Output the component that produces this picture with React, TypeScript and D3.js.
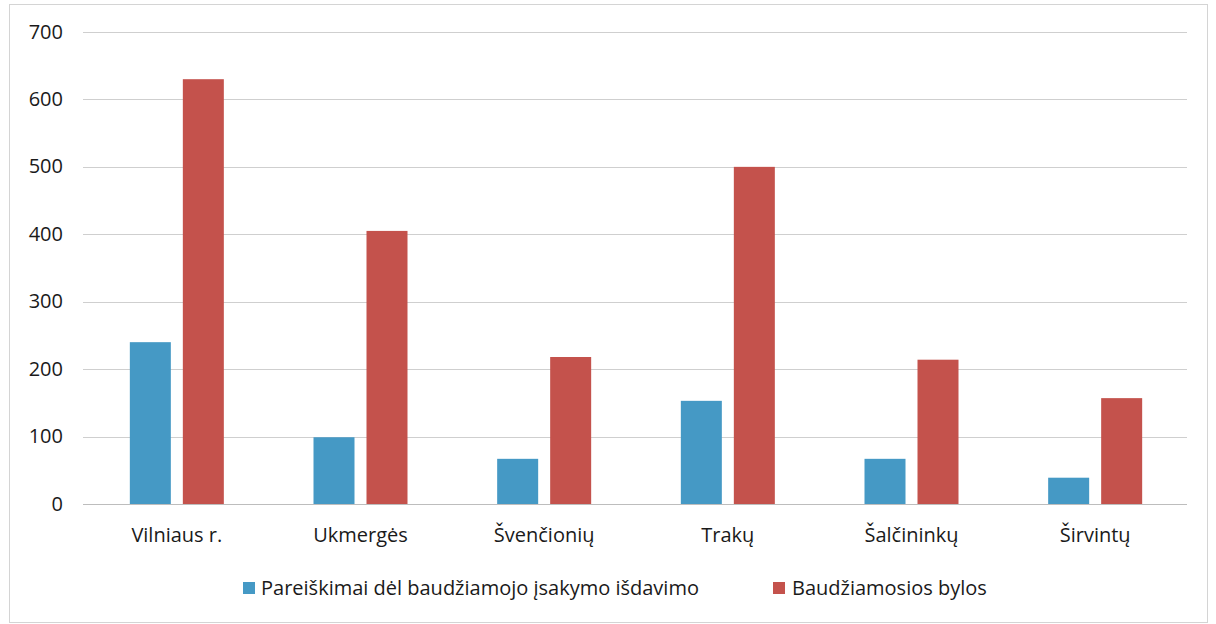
import React from "react";
import * as d3 from "d3";

const categories = ["Vilniaus r.", "Ukmergės", "Švenčionių", "Trakų", "Šalčininkų", "Širvintų"];
const seriesNames = ["Pareiškimai dėl baudžiamojo įsakymo išdavimo", "Baudžiamosios bylos"];
const pareiskimai = [240, 99, 67, 153, 67, 39];
const bylos = [630, 405, 218, 500, 214, 157];
const yTicks = [0, 100, 200, 300, 400, 500, 600, 700];
const colors = ["#4599c5", "#c4524c"];

const W = 1216;
const H = 624;
const FONT = "'Open Sans', 'Noto Sans', sans-serif";
const FS = 20;

export default function App() {
  const x0 = d3.scaleBand<string>().domain(categories).range([85, 1187]).paddingInner(0).paddingOuter(0);
  const x1 = d3.scaleBand<string>().domain(seriesNames).range([-47, 47]).paddingInner(0.2264).paddingOuter(0);
  const y = d3.scaleLinear().domain([0, 700]).range([504, 32]);
  const values = [pareiskimai, bylos];

  return (
    <svg width={W} height={H} style={{ position: "absolute", left: 0, top: 0, background: "#fff" }}>
      <rect x={9.5} y={4.5} width={1198} height={618} fill="#fff" stroke="#d4d4d4" strokeWidth={1} />
      {yTicks.map((t) => (
        <g key={t}>
          <line x1={83} x2={1187} y1={Math.round(y(t)) + 0.5} y2={Math.round(y(t)) + 0.5} stroke={t === 0 ? "#bdbdbd" : "#cfcfcf"} strokeWidth={1} />
          <text x={63} y={y(t)} dy="0.33em" textAnchor="end" fontFamily={FONT} fontSize={FS} fill="#1a1a1a">
            {t}
          </text>
        </g>
      ))}
      {categories.map((c, i) => {
        const cx = (x0(c) as number) + x0.bandwidth() / 2;
        return (
          <g key={c}>
            {seriesNames.map((s, j) => (
              <rect
                key={s}
                x={cx + (x1(s) as number)}
                y={y(values[j][i])}
                width={x1.bandwidth()}
                height={y(0) - y(values[j][i])}
                fill={colors[j]}
              />
            ))}
            <text x={cx} y={542} textAnchor="middle" fontFamily={FONT} fontSize={FS} fill="#1a1a1a">
              {c}
            </text>
          </g>
        );
      })}
      <g>
        <rect x={243} y={582} width={12} height={12} fill={colors[0]} />
        <text x={261} y={595} fontFamily={FONT} fontSize={FS} fill="#1a1a1a">
          {seriesNames[0]}
        </text>
        <rect x={773} y={582} width={12} height={12} fill={colors[1]} />
        <text x={792} y={595} fontFamily={FONT} fontSize={FS} fill="#1a1a1a">
          {seriesNames[1]}
        </text>
      </g>
    </svg>
  );
}
